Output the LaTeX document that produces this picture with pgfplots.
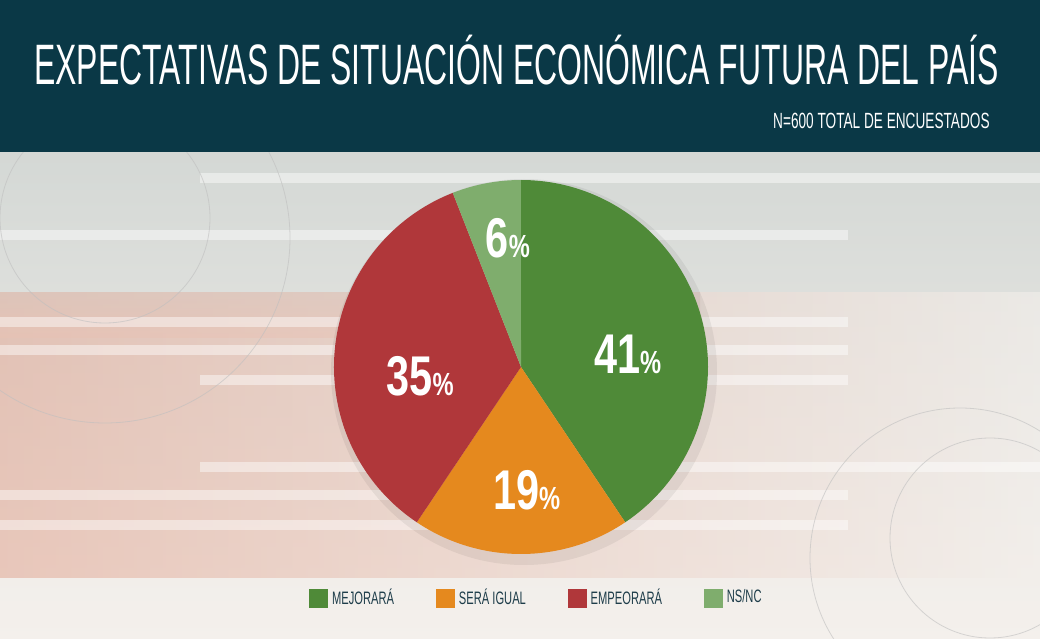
\documentclass[border=0pt]{standalone}
\usepackage{pgfplots}
\pgfplotsset{compat=1.18}
\usepackage{pgfplotstable}
\usepackage{fontspec}
\usetikzlibrary{fadings}
\setmainfont{Liberation Sans}
\newfontfamily\cond[FakeStretch=0.56]{Liberation Sans}
\newfontfamily\condsub[FakeStretch=0.62]{Liberation Sans}
\newfontfamily\condn[FakeStretch=0.74]{Liberation Sans}
\definecolor{head}{HTML}{0A3846}
\definecolor{cMej}{HTML}{4F8A38}
\definecolor{cIgu}{HTML}{E5891E}
\definecolor{cEmp}{HTML}{B0373A}
\definecolor{cNs}{HTML}{7FAD6D}
\definecolor{legtxt}{HTML}{1E3D4A}
\definecolor{bgtop}{HTML}{D4D8D5}
\definecolor{bgbot}{HTML}{F4F0EC}
\definecolor{peach}{HTML}{E4AE9C}
\tikzfading[name=softv, top color=transparent!100, bottom color=transparent!100, middle color=transparent!0]

\pgfplotstableread{
value
41
19
35
6
}\piedata

\begin{document}
\begin{tikzpicture}[x=0.5pt,y=0.5pt]
\pgfplotstablegetelem{0}{value}\of\piedata\edef\vA{\pgfplotsretval}
\pgfplotstablegetelem{1}{value}\of\piedata\edef\vB{\pgfplotsretval}
\pgfplotstablegetelem{2}{value}\of\piedata\edef\vC{\pgfplotsretval}
\pgfplotstablegetelem{3}{value}\of\piedata\edef\vD{\pgfplotsretval}
\pgfmathsetmacro{\tot}{\vA+\vB+\vC+\vD}
\pgfmathsetmacro{\aO}{90}
\pgfmathsetmacro{\aA}{\aO-\vA/\tot*360}
\pgfmathsetmacro{\aB}{\aA-\vB/\tot*360}
\pgfmathsetmacro{\aC}{\aB-\vC/\tot*360}
\pgfmathsetmacro{\aD}{\aC-\vD/\tot*360}
\begin{scope}
\clip (0,0) rectangle (1040,638);
% background body
\shade[top color=bgtop, bottom color=bgbot] (0,0) rectangle (1040,486);
\shade[left color=peach, right color=bgbot, opacity=0.6] (0,60) rectangle (1040,345);
\shade[top color=bgtop!60!peach, bottom color=peach!70!bgbot, opacity=0.5] (0,345) rectangle (700,300);
\fill[bgbot, opacity=0.6] (0,0) rectangle (1040,60);
% stripes
\foreach \yy/\xa/\xb in {455/200/1040, 398/0/848, 311/0/848, 283/0/848, 253/200/848, 166/200/1040, 138/0/848, 108/0/848}
  {\fill[white, opacity=0.45] (\xa,\yy) rectangle (\xb,\yy+10);}
% circles
\draw[gray!50, opacity=0.6] (105,420) circle (105);
\draw[gray!50, opacity=0.6] (105,400) circle (185);
\draw[gray!50, opacity=0.6] (960,80) circle (150);
\draw[gray!50, opacity=0.6] (990,100) circle (100);
% header
\fill[head] (0,486) rectangle (1040,638);
\end{scope}
\node[anchor=base west, white, inner sep=0pt] at (34,553)
  {\cond\fontsize{28.5}{30}\selectfont EXPECTATIVAS DE SITUACIÓN ECONÓMICA FUTURA DEL PAÍS};
\node[anchor=base east, white, inner sep=0pt] at (990,509)
  {\condsub\fontsize{11}{12}\selectfont N=600 TOTAL DE ENCUESTADOS};
% shadow
\fill[black, opacity=0.06] (524,266) circle (193);
\begin{axis}[hide axis, scale only axis, width=187pt, height=187pt,
  xmin=-1, xmax=1, ymin=-1, ymax=1,
  at={(260.5pt,135.5pt)}, anchor=center, clip=false,
  legend columns=4,
  legend style={at={(axis cs:-1.166,-1.235)}, anchor=west, draw=none, fill=none,
    font=\condsub\fontsize{9}{10}\selectfont\color{legtxt},
    column sep=0pt, /tikz/every even column/.append style={column sep=19pt}},
  legend image code/.code={\fill[#1] (0pt,-4.5pt) rectangle (9pt,4.5pt);},
]
\addlegendimage{cMej}\addlegendentry{MEJORARÁ}
\addlegendimage{cIgu}\addlegendentry{SERÁ IGUAL}
\addlegendimage{cEmp}\addlegendentry{EMPEORARÁ}
\addlegendimage{cNs}\addlegendentry{NS/NC}
\fill[cMej] (axis cs:0,0) -- (axis cs:{cos(\aO)},{sin(\aO)}) arc[start angle=\aO, end angle=\aA, radius=93.5pt] -- cycle;
\fill[cIgu] (axis cs:0,0) -- (axis cs:{cos(\aA)},{sin(\aA)}) arc[start angle=\aA, end angle=\aB, radius=93.5pt] -- cycle;
\fill[cEmp] (axis cs:0,0) -- (axis cs:{cos(\aB)},{sin(\aB)}) arc[start angle=\aB, end angle=\aC, radius=93.5pt] -- cycle;
\fill[cNs] (axis cs:0,0) -- (axis cs:{cos(\aC)},{sin(\aC)}) arc[start angle=\aC, end angle=\aD, radius=93.5pt] -- cycle;
\node[white, inner sep=0pt] at (axis cs:0.57,0.07) {\condn\bfseries\fontsize{28}{28}\selectfont 41{\fontsize{16}{16}\selectfont\%}};
\node[white, inner sep=0pt] at (axis cs:0.03,-0.66) {\condn\bfseries\fontsize{28}{28}\selectfont 19{\fontsize{16}{16}\selectfont\%}};
\node[white, inner sep=0pt] at (axis cs:-0.54,-0.05) {\condn\bfseries\fontsize{28}{28}\selectfont 35{\fontsize{16}{16}\selectfont\%}};
\node[white, inner sep=0pt] at (axis cs:-0.07,0.69) {\condn\bfseries\fontsize{28}{28}\selectfont 6{\fontsize{16}{16}\selectfont\%}};
\end{axis}
\pgfresetboundingbox
\useasboundingbox (0,0) rectangle (1040,638);
\end{tikzpicture}
\end{document}
